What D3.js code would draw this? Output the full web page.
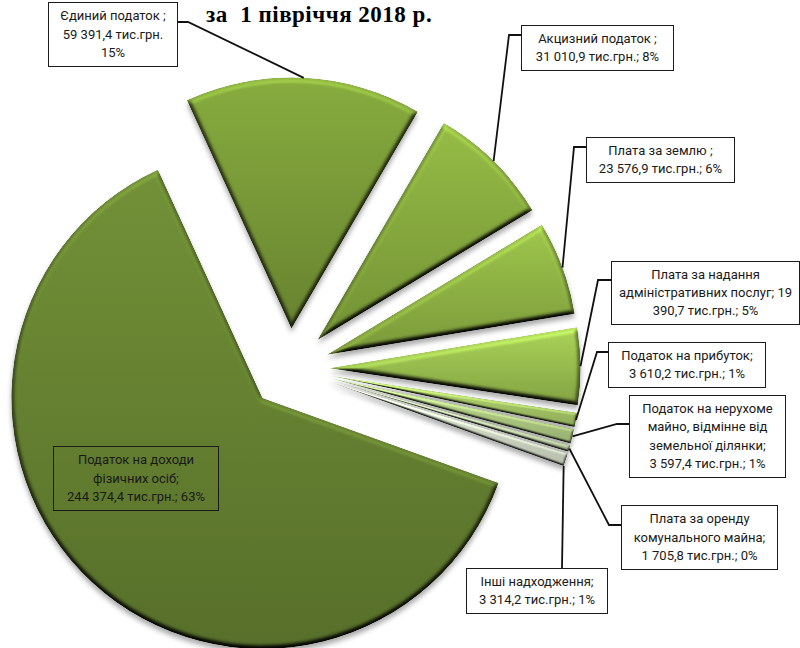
<!DOCTYPE html>
<html>
<head>
<meta charset="utf-8">
<script src="https://cdn.jsdelivr.net/npm/d3@7"></script>
<style>
html, body { margin: 0; padding: 0; background: #fff; }
svg { display: block; }
.lbl { font-family: Roboto, sans-serif; font-size: 13px; fill: #1a1a1a; text-anchor: middle; }
.title { font-family: "Liberation Serif", serif; font-size: 23px; letter-spacing: 0.5px; font-weight: bold; fill: #000; white-space: pre; }
</style>
</head>
<body>
<svg width="800" height="648"></svg>
<script>
var titleText = "за  1 півріччя 2018 р.";

var categories = ["Податок на доходи фізичних осіб", "Єдиний податок", "Акцизний податок", "Плата за землю",
    "Плата за надання адміністративних послуг", "Податок на прибуток", "Податок на нерухоме майно, відмінне від земельної ділянки",
    "Плата за оренду комунального майна", "Інші надходження"];
var values = [244374.4, 59391.4, 31010.9, 23576.9, 19390.7, 3610.2, 3597.4, 1705.8, 3314.2];
var labelLines = [
    ["Податок на доходи", "фізичних осіб;", "244 374,4 тис.грн.; 63%"],
    ["Єдиний податок ;", "59 391,4 тис.грн.", "15%"],
    ["Акцизний податок ;", "31 010,9 тис.грн.; 8%"],
    ["Плата за землю ;", "23 576,9 тис.грн.; 6%"],
    ["Плата за надання", "адміністративних послуг; 19", "390,7 тис.грн.; 5%"],
    ["Податок на прибуток;", "3 610,2 тис.грн.; 1%"],
    ["Податок на нерухоме", "майно, відмінне від", "земельної ділянки;", "3 597,4 тис.грн.; 1%"],
    ["Плата за оренду", "комунального майна;", "1 705,8 тис.грн.; 0%"],
    ["Інші надходження;", "3 314,2 тис.грн.; 1%"]
];

var sliceColors = ["#6a8733", "#7ea03a", "#8cb041", "#94b947", "#9fc552", "#aed06c", "#b8d488", "#c8d8ae", "#dce5d0"];

// pie geometry
var cx = 289.5, cy = 368.5, radius = 251, explode = 40;
var startDeg = 109.8;

// label boxes: x, y, w, h, elbow point of the leader, where it leaves the box, position along the slice arc
var boxes = [
    { x: 53, y: 446, w: 165, h: 64 },
    { x: 48, y: 2, w: 129, h: 64, ex: 188, ey: 22, sx: 177 },
    { x: 521, y: 25, w: 152, h: 45, ex: 509, ey: 35, sx: 521 },
    { x: 586, y: 137, w: 148, h: 45, ex: 574, ey: 147, sx: 586 },
    { x: 611, y: 261, w: 188, h: 63, ex: 598, ey: 280, sx: 611 },
    { x: 608, y: 342, w: 157, h: 45, ex: 597, ey: 352, sx: 608 },
    { x: 629, y: 395, w: 156, h: 82, ex: 617, ey: 424, sx: 629 },
    { x: 621, y: 505, w: 156, h: 64, ex: 609, ey: 525, sx: 621 },
    { x: 466, y: 568, w: 141, h: 45, ex: 562, ey: 568, sx: 562, at: 1 }
];

var svg = d3.select("svg");
var defs = svg.append("defs");

// bevel + soft shadow
// region is in each slice's own translated coords, so it is centred on the apex
function bevelFilter(id, blur, scale) {
    var f = defs.append("filter").attr("id", id)
        .attr("filterUnits", "userSpaceOnUse")
        .attr("x", -280).attr("y", -280).attr("width", 560).attr("height", 560)
        .attr("color-interpolation-filters", "sRGB");
    f.append("feGaussianBlur").attr("in", "SourceAlpha").attr("stdDeviation", blur).attr("result", "soft");
    f.append("feDiffuseLighting").attr("in", "soft").attr("surfaceScale", scale).attr("diffuseConstant", 1)
        .attr("lighting-color", "#fff").attr("result", "light")
        .append("feDistantLight").attr("azimuth", 270).attr("elevation", 58);
    f.append("feComposite").attr("in", "SourceGraphic").attr("in2", "light")
        .attr("operator", "arithmetic").attr("k1", 1.18).attr("k2", 0).attr("k3", 0).attr("k4", 0).attr("result", "lit");
    f.append("feComposite").attr("in", "lit").attr("in2", "SourceAlpha").attr("operator", "in").attr("result", "body");
    f.append("feGaussianBlur").attr("in", "SourceAlpha").attr("stdDeviation", 2.5).attr("result", "sb");
    f.append("feOffset").attr("in", "sb").attr("dy", 4).attr("result", "so");
    f.append("feFlood").attr("flood-color", "#000").attr("flood-opacity", 0.33).attr("result", "sc");
    f.append("feComposite").attr("in", "sc").attr("in2", "so").attr("operator", "in").attr("result", "shadow");
    var fm = f.append("feMerge");
    fm.append("feMergeNode").attr("in", "shadow");
    fm.append("feMergeNode").attr("in", "body");
}
bevelFilter("bevel", 2.6, 5);
bevelFilter("bevelThin", 1.1, 2.2);

var startAngle = startDeg * Math.PI / 180;
var pie = d3.pie().sort(null).startAngle(startAngle).endAngle(startAngle + 2 * Math.PI);
var arcs = pie(values);
var arc = d3.arc().innerRadius(0).outerRadius(radius);

function offset(d) {
    var a = (d.startAngle + d.endAngle) / 2;
    return [cx + explode * Math.sin(a), cy - explode * Math.cos(a)];
}

arcs.forEach(function (d, i) {
    var c = d3.color(sliceColors[i]);
    var g = defs.append("linearGradient").attr("id", "grad" + i).attr("x1", 0).attr("y1", 0).attr("x2", 0).attr("y2", 1);
    g.append("stop").attr("offset", 0).attr("stop-color", c.brighter(0.2));
    g.append("stop").attr("offset", 1).attr("stop-color", c.darker(0.55));
});

svg.append("g").selectAll("path")
    .data(arcs)
    .enter().append("path")
    .attr("d", arc)
    .attr("fill", function (d, i) { return "url(#grad" + i + ")"; })
    .attr("filter", function (d, i) { return i > 4 ? "url(#bevelThin)" : "url(#bevel)"; })
    .attr("transform", function (d) { return "translate(" + offset(d) + ")"; });

svg.append("text").attr("class", "title").attr("x", 206).attr("y", 21.5).text(titleText);

// leaders
svg.append("g").selectAll("path")
    .data(arcs.slice(1))
    .enter().append("path")
    .attr("fill", "none")
    .attr("stroke", "#111")
    .attr("stroke-width", 1.8)
    .attr("d", function (d, i) {
        var b = boxes[i + 1], o = offset(d);
        var t = b.at === undefined ? 0.5 : b.at;
        var a = d.startAngle + (d.endAngle - d.startAngle) * t;
        return d3.line()([
            [o[0] + radius * Math.sin(a), o[1] - radius * Math.cos(a)],
            [b.ex, b.ey],
            [b.sx, b.ey]
        ]);
    });

// label boxes
var lab = svg.append("g").selectAll("g")
    .data(boxes)
    .enter().append("g")
    .attr("transform", function (b) { return "translate(" + b.x + "," + b.y + ")"; });
lab.append("rect")
    .attr("x", 0.5).attr("y", 0.5)
    .attr("width", function (b) { return b.w; })
    .attr("height", function (b) { return b.h; })
    .attr("fill", function (b, i) { return i === 0 ? "none" : "#fff"; })
    .attr("stroke", "#1c1c1c")
    .attr("stroke-width", 1);
lab.each(function (b, i) {
    var lines = labelLines[i];
    var lh = 18.3;
    var top = b.h / 2 - lh * (lines.length - 1) / 2;
    d3.select(this).selectAll("text")
        .data(lines)
        .enter().append("text")
        .attr("class", "lbl")
        .attr("x", b.w / 2 + 0.5)
        .attr("y", function (s, j) { return top + j * lh + 4.5; })
        .text(function (s) { return s; });
});
</script>
</body>
</html>
